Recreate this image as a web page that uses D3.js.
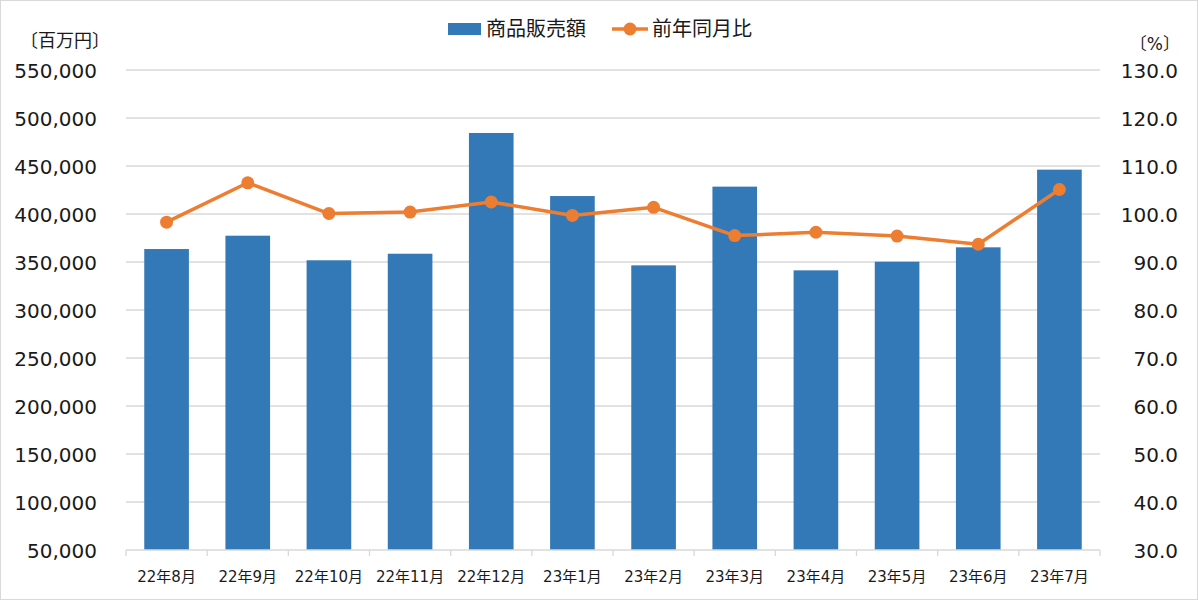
<!DOCTYPE html>
<html><head><meta charset="utf-8">
<script src="https://cdn.jsdelivr.net/npm/d3@7"></script>
<style>
body{margin:0;background:#fff;}
text{font-family:"DejaVu Sans","Noto Sans CJK JP",sans-serif;fill:#1a1a1a;}
</style></head><body>
<svg id="chart" width="1198" height="600"></svg>
<script>
const categories = ["22年8月","22年9月","22年10月","22年11月","22年12月","23年1月","23年2月","23年3月","23年4月","23年5月","23年6月","23年7月"];
const sales = [363500, 377400, 351800, 358600, 484400, 418700, 346500, 428500, 341300, 350300, 365300, 446200];
const yoy = [98.3, 106.5, 100.1, 100.4, 102.5, 99.7, 101.4, 95.5, 96.2, 95.4, 93.7, 105.1];
const leftTicks = [50000,100000,150000,200000,250000,300000,350000,400000,450000,500000,550000];
const rightTicks = [30,40,50,60,70,80,90,100,110,120,130];
const seriesNames = ["商品販売額","前年同月比"];

const svg = d3.select("#chart");
const W = 1198, H = 600;
const m = {left:126, right:98, top:70, bottom:50};
const barColor = "#3479b7", lineColor = "#ed7d31";

svg.append("rect").attr("x",0.5).attr("y",0.5).attr("width",W-1).attr("height",H-1)
  .attr("fill","#fff").attr("stroke","#d9d9d9");

const x = d3.scaleBand().domain(categories).range([m.left, W-m.right]).paddingInner(0.45).paddingOuter(0.225);
const xb = d3.scaleBand().domain(categories).range([m.left, W-m.right]);
const yL = d3.scaleLinear().domain([50000,550000]).range([H-m.bottom, m.top]);
const yR = d3.scaleLinear().domain([30,130]).range([H-m.bottom, m.top]);

// gridlines
svg.append("g").selectAll("line").data(leftTicks.slice(1)).join("line")
  .attr("x1",m.left).attr("x2",W-m.right)
  .attr("y1",d=>yL(d)).attr("y2",d=>yL(d))
  .attr("stroke","#d9d9d9").attr("stroke-width",1.3);

// left axis
const gL = svg.append("g").attr("transform",`translate(${m.left-29},0)`)
  .call(d3.axisLeft(yL).tickValues(leftTicks).tickFormat(d3.format(",")).tickSize(0).tickPadding(0));
gL.select(".domain").remove();
gL.selectAll("text").attr("font-size",20).attr("dy","0.35em").style("font-family","DejaVu Sans");

// right axis
const gR = svg.append("g").attr("transform",`translate(${W-20},0)`)
  .call(d3.axisLeft(yR).tickValues(rightTicks).tickFormat(d3.format(".1f")).tickSize(0).tickPadding(0));
gR.select(".domain").remove();
gR.selectAll("text").attr("font-size",20).attr("dy","0.35em").style("font-family","DejaVu Sans");

// bars
svg.append("g").selectAll("rect").data(categories).join("rect")
  .attr("x",d=>x(d)).attr("width",x.bandwidth())
  .attr("y",(d,i)=>yL(sales[i])).attr("height",(d,i)=>yL(50000)-yL(sales[i]))
  .attr("fill",barColor);

// x axis
const gX = svg.append("g").attr("transform",`translate(0,${H-m.bottom})`);
gX.append("line").attr("x1",m.left).attr("x2",W-m.right).attr("stroke","#d9d9d9").attr("stroke-width",1.3);
const bounds = categories.map(c=>xb(c)).concat([W-m.right]);
gX.selectAll("line.tk").data(bounds).join("line").attr("class","tk")
  .attr("x1",d=>d).attr("x2",d=>d).attr("y1",0).attr("y2",6).attr("stroke","#d9d9d9").attr("stroke-width",1.3);
gX.selectAll("text").data(categories).join("text")
  .attr("x",d=>xb(d)+xb.bandwidth()/2).attr("y",27).attr("text-anchor","middle")
  .attr("dy","0.35em").attr("font-size",15).text(d=>d);

// line
const line = d3.line().x((d,i)=>x(categories[i])+x.bandwidth()/2).y(d=>yR(d));
svg.append("path").datum(yoy).attr("d",line).attr("fill","none")
  .attr("stroke",lineColor).attr("stroke-width",3.5).attr("stroke-linejoin","round");
svg.append("g").selectAll("circle").data(yoy).join("circle")
  .attr("cx",(d,i)=>x(categories[i])+x.bandwidth()/2).attr("cy",d=>yR(d)).attr("r",6.5)
  .attr("fill",lineColor);

// units
svg.append("text").attr("x",20).attr("y",41).attr("dy","0.35em").attr("font-size",18).text("〔百万円〕");
svg.append("text").attr("x",1180).attr("y",44).attr("dy","0.35em").attr("font-size",17).attr("text-anchor","end").text("〔%〕");

// legend
const lg = svg.append("g");
lg.append("rect").attr("x",448).attr("y",23).attr("width",33).attr("height",12).attr("fill",barColor);
lg.append("text").attr("x",486).attr("y",29).attr("dy","0.35em").attr("font-size",20).text(seriesNames[0]);
lg.append("line").attr("x1",612).attr("x2",648).attr("y1",29).attr("y2",29).attr("stroke",lineColor).attr("stroke-width",3.5);
lg.append("circle").attr("cx",630).attr("cy",29).attr("r",6.5).attr("fill",lineColor);
lg.append("text").attr("x",652).attr("y",29).attr("dy","0.35em").attr("font-size",20).text(seriesNames[1]);
</script></body></html>
